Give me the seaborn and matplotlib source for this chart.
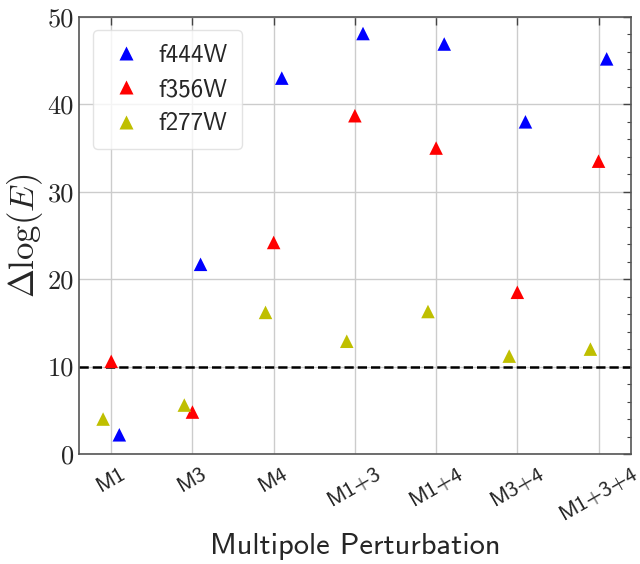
import pandas as pd
import matplotlib
matplotlib.use("Agg")
import matplotlib.pyplot as plt
from matplotlib.ticker import MultipleLocator
import seaborn as sns

# values
perturbations = ["M1", "M3", "M4", "M1+3", "M1+4", "M3+4", "M1+3+4"]
f444w = [2.2, 21.7, 43.0, 48.1, 46.9, 38.0, 45.2]
f356w = [10.6, 4.8, 24.2, 38.7, 35.0, 18.5, 33.5]
f277w = [4.0, 5.6, 16.2, 12.9, 16.3, 11.2, 12.0]
filters = ["f444W", "f356W", "f277W"]
colors = ["b", "r", "y"]
offsets = [0.1, 0.0, -0.1]
threshold = 10

rows = []
for name, vals, off in zip(filters, [f444w, f356w, f277w], offsets):
    for i, v in enumerate(vals):
        rows.append({"pos": i + off, "filter": name, "dlogE": v})
df = pd.DataFrame(rows)

sns.set_style("white")
plt.rcParams["mathtext.fontset"] = "cm"
plt.rcParams["font.family"] = ["cmss10", "DejaVu Sans"]
plt.rcParams["axes.unicode_minus"] = False

fig = plt.figure(figsize=(6.4, 5.64), dpi=100)
ax = fig.add_axes([0.123, 0.195, 0.863, 0.775])

sns.scatterplot(data=df, x="pos", y="dlogE", hue="filter", hue_order=filters,
                palette=colors, marker="^", s=95, edgecolor="none",
                ax=ax, zorder=3)
ax.axhline(threshold, color="k", ls="--", lw=1.8, zorder=2)

ax.set_xlim(-0.4, 6.4)
ax.set_ylim(0, 50)
ax.set_xticks(range(len(perturbations)))
ax.set_xticklabels(perturbations, rotation=30, ha="center", fontsize=16)
ax.set_yticks(range(0, 51, 10))
ax.set_yticklabels([str(v) for v in range(0, 51, 10)], fontfamily="cmr10", fontsize=19)
ax.yaxis.set_minor_locator(MultipleLocator(2))
ax.tick_params(which="both", direction="in", top=True, right=True, color="#444444")
ax.tick_params(which="major", length=6, width=1)
ax.tick_params(which="minor", length=3, width=0.8)
ax.tick_params(axis="x", pad=7)
ax.grid(True, which="major", color="#cccccc", lw=1, zorder=0)
for sp in ax.spines.values():
    sp.set_color("#555555")
    sp.set_linewidth(1.2)

ax.set_xlabel("Multipole Perturbation", fontsize=22, labelpad=7)
ax.set_ylabel(r"$\Delta\log(E)$", fontsize=25, labelpad=2)

handles, labels = ax.get_legend_handles_labels()
ax.legend(handles, labels, loc="upper left", fontsize=18, frameon=True,
          framealpha=0.8, edgecolor="#dddddd", borderpad=0.55, labelspacing=0.45,
          handlelength=1.6, handletextpad=0.5, borderaxespad=0,
          bbox_to_anchor=(0.025, 0.970))

fig.savefig("out.png", dpi=100)
